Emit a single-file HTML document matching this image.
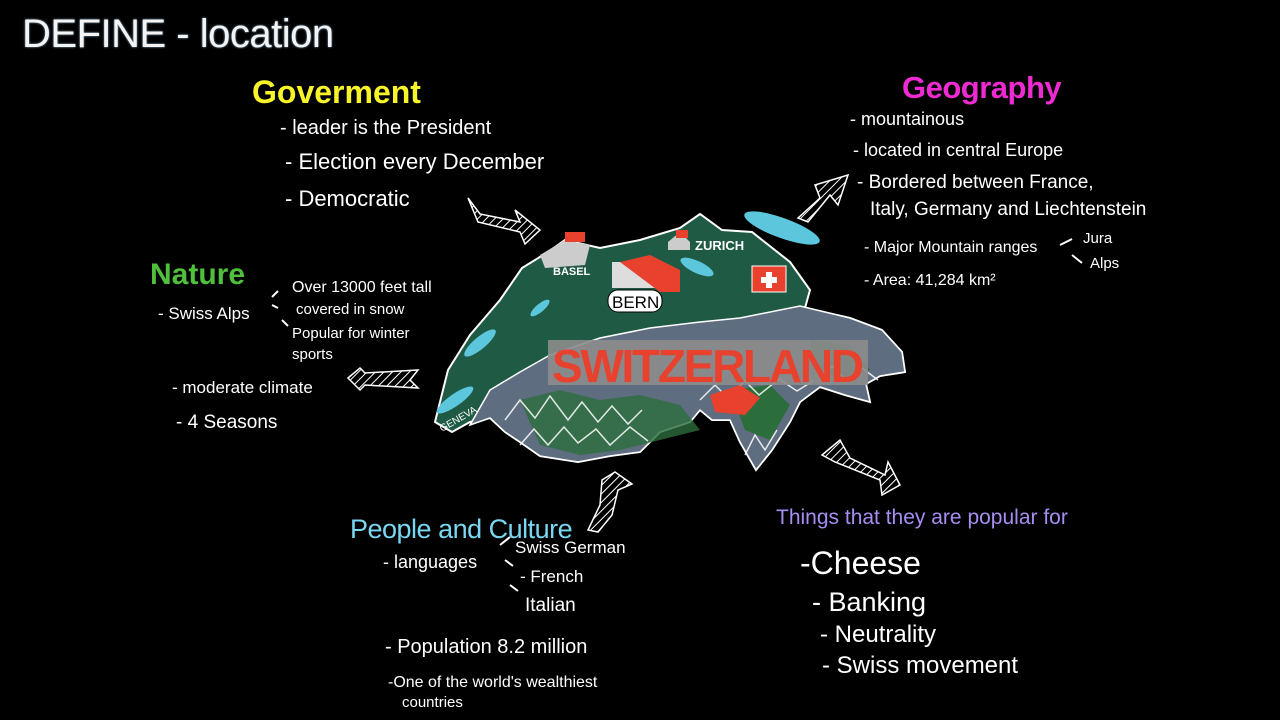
<!DOCTYPE html>
<html><head><meta charset="utf-8"><style>
html,body{margin:0;padding:0;background:#000;}
#c{position:relative;width:1280px;height:720px;background:#000;overflow:hidden;font-family:"Liberation Sans",sans-serif;color:#fff;}
.t{position:absolute;white-space:nowrap;line-height:1;}
</style></head><body><div id="c">
<div class="t" style="left:22px;top:14px;font-size:40px;color:#f4f4f4;text-shadow:0 0 2px #8ab4d8;letter-spacing:-0.5px">DEFINE - location</div>

<div class="t" style="left:252px;top:76px;font-size:32px;color:#f7f52a;font-weight:bold;">Goverment</div>
<div class="t" style="left:280px;top:118px;font-size:20px;">- leader is the President</div>
<div class="t" style="left:285px;top:151px;font-size:22px;">- Election every December</div>
<div class="t" style="left:285px;top:188px;font-size:22px;">- Democratic</div>

<div class="t" style="left:902px;top:72px;font-size:31px;color:#f02ad2;font-weight:bold;letter-spacing:-0.5px">Geography</div>
<div class="t" style="left:850px;top:110px;font-size:18px;">- mountainous</div>
<div class="t" style="left:853px;top:141px;font-size:18px;">- located in central Europe</div>
<div class="t" style="left:857px;top:173px;font-size:19px;">- Bordered between France,</div>
<div class="t" style="left:870px;top:200px;font-size:19px;">Italy, Germany and Liechtenstein</div>
<div class="t" style="left:864px;top:240px;font-size:16px;">- Major Mountain ranges</div>
<div class="t" style="left:1083px;top:231px;font-size:15px;">Jura</div>
<div class="t" style="left:1090px;top:256px;font-size:15px;">Alps</div>
<div class="t" style="left:864px;top:273px;font-size:16px;">- Area: 41,284 km²</div>

<div class="t" style="left:150px;top:260px;font-size:30px;color:#4fbf3c;font-weight:bold;">Nature</div>
<div class="t" style="left:158px;top:305px;font-size:17px;">- Swiss Alps</div>
<div class="t" style="left:292px;top:280px;font-size:16px;">Over 13000 feet tall</div>
<div class="t" style="left:296px;top:302px;font-size:15px;">covered in snow</div>
<div class="t" style="left:292px;top:326px;font-size:15px;">Popular for winter</div>
<div class="t" style="left:292px;top:347px;font-size:15px;">sports</div>
<div class="t" style="left:172px;top:379px;font-size:17px;">- moderate climate</div>
<div class="t" style="left:176px;top:413px;font-size:19px;">- 4 Seasons</div>

<div class="t" style="left:350px;top:516px;font-size:27px;color:#7ad7f2;letter-spacing:-0.5px">People and Culture</div>
<div class="t" style="left:383px;top:553px;font-size:18px;">- languages</div>
<div class="t" style="left:515px;top:539px;font-size:17px;">Swiss German</div>
<div class="t" style="left:520px;top:568px;font-size:17px;">- French</div>
<div class="t" style="left:525px;top:596px;font-size:19px;">Italian</div>
<div class="t" style="left:385px;top:637px;font-size:20px;">- Population 8.2 million</div>
<div class="t" style="left:388px;top:675px;font-size:16px;">-One of the world's wealthiest</div>
<div class="t" style="left:402px;top:695px;font-size:15px;">countries</div>

<div class="t" style="left:776px;top:507px;font-size:21px;color:#a78df0;">Things that they are popular for</div>
<div class="t" style="left:800px;top:547px;font-size:32px;">-Cheese</div>
<div class="t" style="left:812px;top:589px;font-size:27px;">- Banking</div>
<div class="t" style="left:820px;top:623px;font-size:24px;">- Neutrality</div>
<div class="t" style="left:822px;top:654px;font-size:24px;">- Swiss movement</div>

<svg width="1280" height="720" style="position:absolute;left:0;top:0" xmlns="http://www.w3.org/2000/svg">
<defs><pattern id="h" width="6" height="6" patternUnits="userSpaceOnUse" patternTransform="rotate(45)"><rect width="6" height="6" fill="#000"/><line x1="0" y1="0" x2="0" y2="6" stroke="#fff" stroke-width="2"/></pattern></defs>
<path d="M468,198 L480,214 L520,222 L515,210 L540,230 L525,244 L520,232 L478,222 Z" fill="url(#h)" stroke="#fff" stroke-width="1.5"/>
<path d="M798,218 L820,198 L815,185 L848,175 L838,205 L830,195 L808,222 Z" fill="url(#h)" stroke="#fff" stroke-width="1.5"/>
<path d="M348,378 L360,368 L365,373 L418,370 L410,380 L418,388 L365,385 L360,390 Z" fill="url(#h)" stroke="#fff" stroke-width="1.5"/>
<path d="M822,455 L840,440 L850,458 L885,475 L888,462 L900,485 L882,495 L880,480 L835,462 Z" fill="url(#h)" stroke="#fff" stroke-width="1.5"/>
<path d="M588,530 L600,505 L602,480 L615,472 L632,484 L618,490 L612,515 L598,532 Z" fill="url(#h)" stroke="#fff" stroke-width="1.5"/>
<path d="M435,422 L448,370 L470,335 L500,300 L522,268 L548,252 L565,240 L600,248 L640,240 L680,228 L700,214 L722,230 L752,232 L790,262 L810,290 L805,308 L850,318 L882,330 L902,352 L905,372 L880,376 L866,384 L870,402 L845,395 L820,387 L800,402 L790,422 L772,450 L756,470 L740,442 L730,420 L712,420 L700,410 L690,422 L660,432 L640,452 L610,456 L578,462 L540,456 L520,442 L505,432 L490,418 L470,422 L452,432 Z" fill="#1f5a44" stroke="#fff" stroke-width="2"/>
<path d="M470,425 L490,390 L520,372 L550,355 L600,338 L650,328 L700,322 L740,318 L800,306 L850,318 L882,330 L902,352 L905,372 L880,376 L866,384 L870,402 L845,395 L820,387 L800,402 L790,422 L772,450 L756,470 L740,442 L730,420 L712,420 L700,410 L690,422 L660,432 L640,452 L610,456 L578,462 L540,456 L520,442 L505,432 L490,418 Z" fill="#5f6d80" stroke="#fff" stroke-width="1.5"/>
<path d="M520,400 L560,390 L600,400 L640,395 L680,405 L700,430 L660,440 L620,450 L580,455 L540,445 Z" fill="#2c6d3c" opacity="0.8"/>
<path d="M730,390 L770,385 L790,405 L770,440 L745,430 Z" fill="#2c6d3c"/>
<path d="M810,340 L850,345 L870,370 L840,380 L815,365 Z" fill="#2c6d3c"/>
<g stroke="#fff" stroke-width="1.5" fill="none" opacity="0.85">
<path d="M505,420 l15,-20 l15,18 l15,-22 l18,24 l14,-18 l16,20 l14,-16 l16,18 l14,-14"/>
<path d="M520,445 l14,-16 l14,16 l16,-18 l14,16 l18,-14 l14,16 l20,-18 l18,14"/>
<path d="M700,400 l15,-15 l12,12 l18,-16 l14,14 l20,-16 l18,12 l16,-10"/>
<path d="M745,455 l10,-20 l10,15 l12,-20 M820,380 l12,-14 l14,14 l16,-12 l16,12"/>
</g>
<rect x="548" y="340" width="320" height="45" fill="#8c8c8c" opacity="0.9"/>
<text x="552" y="382" font-family="Liberation Sans" font-size="46" fill="#e8412e" font-weight="bold" textLength="312">SWITZERLAND</text>
<path d="M710,395 L740,385 L760,398 L745,415 L715,412 Z" fill="#e8412e"/>
<ellipse cx="782" cy="228" rx="40" ry="10" transform="rotate(20 782 228)" fill="#5cc6dc"/>
<ellipse cx="697" cy="267" rx="18" ry="6" transform="rotate(25 697 267)" fill="#5cc6dc"/>
<ellipse cx="480" cy="343" rx="20" ry="6" transform="rotate(-40 480 343)" fill="#5cc6dc"/>
<ellipse cx="540" cy="308" rx="12" ry="4" transform="rotate(-40 540 308)" fill="#5cc6dc"/>
<ellipse cx="455" cy="400" rx="22" ry="6" transform="rotate(-35 455 400)" fill="#5cc6dc"/>
<rect x="752" y="266" width="34" height="26" fill="#e8412e" stroke="#fff"/>
<path d="M766,272 h6 v5 h5 v6 h-5 v5 h-6 v-5 h-5 v-6 h5z" fill="#fff"/>
<rect x="608" y="290" width="54" height="22" rx="10" fill="#fff" stroke="#000"/>
<text x="612" y="308" font-family="Liberation Sans" font-size="17" fill="#000">BERN</text>
<rect x="612" y="262" width="48" height="26" fill="#ddd"/><path d="M620,262 L650,255 L680,270 L680,292 L660,292Z" fill="#e8412e"/>
<path d="M540,255 L565,240 L590,245 L585,265 L545,268Z" fill="#ccc"/><rect x="565" y="232" width="20" height="10" fill="#e8412e"/>
<path d="M668,242 L680,232 L690,242 L690,250 L668,250Z" fill="#ccc"/><rect x="676" y="230" width="12" height="8" fill="#e8412e"/>
<text x="553" y="275" font-family="Liberation Sans" font-size="11" fill="#fff" font-weight="bold">BASEL</text>
<text x="695" y="250" font-family="Liberation Sans" font-size="13" fill="#fff" font-weight="bold">ZURICH</text>
<text x="442" y="432" font-family="Liberation Sans" font-size="10" fill="#fff" transform="rotate(-30 442 432)">GENEVA</text>
<g stroke="#fff" stroke-width="2" fill="none">
<path d="M272,297 l6,-6 M272,305 l6,3 M282,320 l6,6 M500,545 l10,-8 M505,560 l8,6 M510,585 l8,6 M1060,245 l12,-6 M1072,255 l10,8"/>
</g>
</svg>
</div></body></html>
